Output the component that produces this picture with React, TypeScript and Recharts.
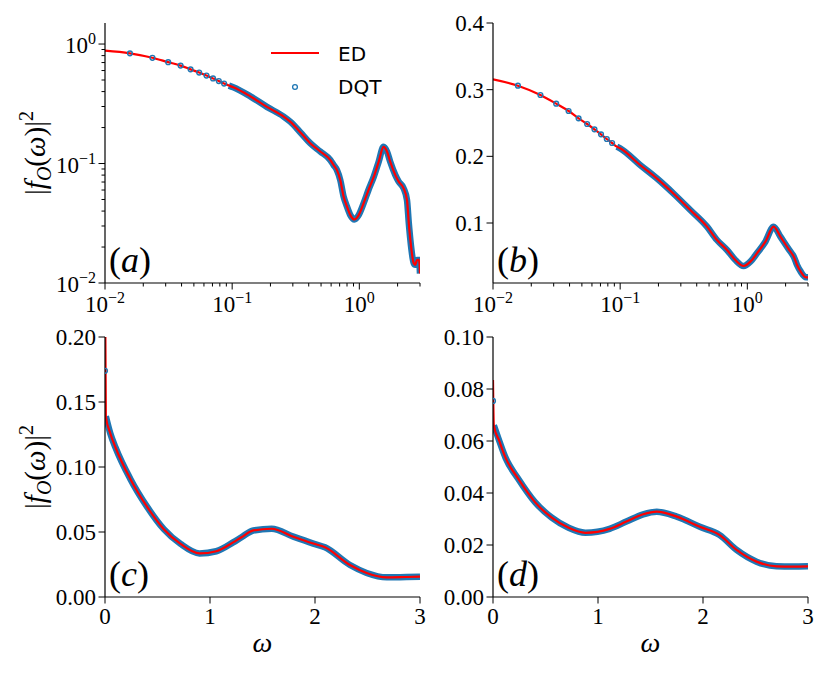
import React from 'react';
import { ComposedChart, Line, XAxis, YAxis, Legend } from 'recharts';

const BLUE = '#1f77b4';
const RED = '#ff0000';
const SERIF = '"Liberation Serif", "Times New Roman", serif';
const SANS = '"DejaVu Sans", Verdana, sans-serif';
const TICK_FS = 23;
const SUP_FS = 16;
const MAJOR_LEN = 6.5;
const MINOR_LEN = 3.5;

// ---------- panel (a): log-log ----------
const edOmegaA = [0.01, 0.0157, 0.0236, 0.0314, 0.0393, 0.0471, 0.055, 0.0628, 0.0707, 0.0785, 0.0864, 0.0942, 0.102, 0.139, 0.1875, 0.254, 0.286, 0.343, 0.411, 0.493, 0.591, 0.628, 0.667, 0.708, 0.752, 0.8, 0.85, 0.914, 0.988, 1.08, 1.18, 1.3, 1.42, 1.55, 1.65, 1.75, 1.92, 2.04, 2.23, 2.37, 2.45, 2.52, 2.68, 2.75, 2.85, 2.95, 3.0];
const edValA = [0.88, 0.836, 0.767, 0.705, 0.66, 0.614, 0.577, 0.545, 0.515, 0.49, 0.467, 0.449, 0.435, 0.365, 0.298, 0.247, 0.224, 0.183, 0.148, 0.126, 0.107, 0.097, 0.088, 0.0728, 0.053, 0.0435, 0.037, 0.034, 0.037, 0.0464, 0.06, 0.0776, 0.1035, 0.138, 0.126, 0.1035, 0.08, 0.0705, 0.062, 0.0495, 0.0316, 0.0229, 0.0146, 0.0142, 0.0156, 0.0156, 0.012];

// ---------- panel (b): log-x ----------
const edOmegaB = [0.01, 0.0157, 0.0236, 0.0314, 0.0393, 0.0471, 0.055, 0.0628, 0.0707, 0.0785, 0.0864, 0.0942, 0.1, 0.1435, 0.194, 0.27, 0.356, 0.482, 0.577, 0.692, 0.805, 0.935, 1.057, 1.19, 1.387, 1.61, 1.82, 2.12, 2.25, 2.32, 2.46, 2.63, 2.89, 3.0];
const edValB = [0.3155, 0.306, 0.292, 0.279, 0.268, 0.257, 0.2485, 0.2405, 0.233, 0.226, 0.22, 0.2145, 0.212, 0.187, 0.167, 0.142, 0.1195, 0.0945, 0.0745, 0.0595, 0.0445, 0.0355, 0.042, 0.0545, 0.072, 0.0945, 0.0795, 0.0605, 0.0535, 0.0495, 0.037, 0.027, 0.0185, 0.0185];

// ---------- panel (c): linear ----------
const edOmegaC = [0, 0.0079, 0.05, 0.1, 0.24, 0.4, 0.56, 0.72, 0.9, 1.06, 1.22, 1.3, 1.413, 1.587, 1.794, 1.984, 2.095, 2.333, 2.492, 2.683, 2.873, 3.0];
const edValC = [0.25, 0.139, 0.126, 0.115, 0.091, 0.0695, 0.0522, 0.0408, 0.0335, 0.0352, 0.042, 0.046, 0.0512, 0.0525, 0.0464, 0.0411, 0.0382, 0.0246, 0.0185, 0.0151, 0.0154, 0.0156];

// ---------- panel (d): linear ----------
const edOmegaD = [0, 0.0079, 0.06, 0.12, 0.24, 0.4, 0.56, 0.72, 0.88, 1.11, 1.27, 1.43, 1.56, 1.75, 1.97, 2.16, 2.32, 2.51, 2.7, 2.85, 3.0];
const edValD = [0.0835, 0.066, 0.06, 0.0535, 0.0455, 0.0365, 0.0305, 0.0266, 0.0247, 0.0262, 0.029, 0.0318, 0.0328, 0.0309, 0.027, 0.0238, 0.0181, 0.0136, 0.0118, 0.0117, 0.0118];

// ---------- DQT isolated markers ----------
const dqtDotOmegaTop = [0.0157, 0.0236, 0.0314, 0.0393, 0.0471, 0.055, 0.0628, 0.0707, 0.0785, 0.0864];
const dqtDotValA = [0.836, 0.767, 0.705, 0.66, 0.614, 0.577, 0.545, 0.515, 0.49, 0.467];
const dqtDotValB = [0.306, 0.292, 0.279, 0.268, 0.257, 0.2485, 0.2405, 0.233, 0.226, 0.22];
const dqtDotOmegaBottom = [0];
const dqtDotValC = [0.174];
const dqtDotValD = [0.0754];

// ---------- ticks ----------
const ticksLogX = [0.01, 0.02, 0.03, 0.04, 0.05, 0.06, 0.07, 0.08, 0.09, 0.1, 0.2, 0.3, 0.4, 0.5, 0.6, 0.7, 0.8, 0.9, 1, 2, 3];
const ticksLogYA = [0.01, 0.02, 0.03, 0.04, 0.05, 0.06, 0.07, 0.08, 0.09, 0.1, 0.2, 0.3, 0.4, 0.5, 0.6, 0.7, 0.8, 0.9, 1];
const majorLog = [0.01, 0.1, 1];
const ticksYB = [0.1, 0.2, 0.3, 0.4];
const ticksLinX = [0, 1, 2, 3];
const ticksYC = [0, 0.05, 0.1, 0.15, 0.2];
const ticksYD = [0, 0.02, 0.04, 0.06, 0.08, 0.1];

type Row = { w: number; v: number };
const rows = (ws: number[], vs: number[]): Row[] => ws.map((w, i) => ({ w, v: vs[i] }));

const edA = rows(edOmegaA, edValA);
const edB = rows(edOmegaB, edValB);
const edC = rows(edOmegaC, edValC);
const edD = rows(edOmegaD, edValD);
const bandA = edA.filter((r) => r.w >= 0.094);
const bandB = edB.filter((r) => r.w >= 0.094);
const bandC = edC.filter((r) => r.w > 0);
const bandD = edD.filter((r) => r.w > 0);
const dotsA = rows(dqtDotOmegaTop, dqtDotValA);
const dotsB = rows(dqtDotOmegaTop, dqtDotValB);
const dotsC = rows(dqtDotOmegaBottom, dqtDotValC);
const dotsD = rows(dqtDotOmegaBottom, dqtDotValD);

const isMajor = (v: number) => majorLog.some((m) => Math.abs(v - m) < 1e-9);
const expLabel = (v: number) => {
  const e = Math.round(Math.log10(v));
  return e < 0 ? '\u2212' + Math.abs(e) : String(e);
};

const serif = (size: number, italic = false): React.CSSProperties => ({
  fontFamily: SERIF,
  fontSize: size,
  fontStyle: italic ? 'italic' : 'normal',
  fill: '#000',
});

const LogXTick = (props: any) => {
  const { x, y, payload } = props;
  const v = payload.value;
  const major = isMajor(v);
  return (
    <g>
      <line x1={x} x2={x} y1={y} y2={y + (major ? MAJOR_LEN : MINOR_LEN)} stroke="#000" strokeWidth={1} />
      {major && (
        <text x={x} y={y + 29} textAnchor="middle" style={serif(TICK_FS)}>
          10<tspan dy={-9} style={{ fontSize: SUP_FS }}>{expLabel(v)}</tspan>
        </text>
      )}
    </g>
  );
};

const LogYTick = (props: any) => {
  const { x, y, payload } = props;
  const v = payload.value;
  const major = isMajor(v);
  return (
    <g>
      <line x1={x - (major ? MAJOR_LEN : MINOR_LEN)} x2={x} y1={y} y2={y} stroke="#000" strokeWidth={1} />
      {major && (
        <text x={x - 9} y={y + 9} textAnchor="end" style={serif(TICK_FS)}>
          10<tspan dy={-9} style={{ fontSize: SUP_FS }}>{expLabel(v)}</tspan>
        </text>
      )}
    </g>
  );
};

const LinXTick = (props: any) => {
  const { x, y, payload } = props;
  return (
    <g>
      <line x1={x} x2={x} y1={y} y2={y + MAJOR_LEN} stroke="#000" strokeWidth={1} />
      <text x={x} y={y + 27} textAnchor="middle" style={serif(TICK_FS)}>
        {String(payload.value)}
      </text>
    </g>
  );
};

const LinYTick = (props: any) => {
  const { x, y, payload, digits } = props;
  return (
    <g>
      <line x1={x - MAJOR_LEN} x2={x} y1={y} y2={y} stroke="#000" strokeWidth={1} />
      <text x={x - 9} y={y + 8} textAnchor="end" style={serif(TICK_FS)}>
        {Number(payload.value).toFixed(digits)}
      </text>
    </g>
  );
};

const YTitle = (props: any) => {
  const { viewBox } = props;
  const cx = 45;
  const cy = viewBox.y + viewBox.height / 2;
  return (
    <text transform={`rotate(-90, ${cx}, ${cy})`} x={cx} y={cy} textAnchor="middle" style={serif(29)}>
      |<tspan style={{ fontStyle: 'italic' }}>f</tspan>
      <tspan dy={6} style={{ fontStyle: 'italic', fontSize: 20 }}>O</tspan>
      <tspan dy={-6}>(</tspan>
      <tspan style={{ fontStyle: 'italic' }}>ω</tspan>)|<tspan dy={-12} style={{ fontSize: 20 }}>2</tspan>
    </text>
  );
};

const XTitle = (props: any) => {
  const { viewBox, tag, showOmega } = props;
  return (
    <g>
      <text x={viewBox.x + 4} y={viewBox.y - 11} style={serif(36)}>
        (<tspan style={{ fontStyle: 'italic' }}>{tag}</tspan>)
      </text>
      {showOmega && (
        <text x={viewBox.x + viewBox.width / 2} y={viewBox.y + 55} textAnchor="middle" style={serif(28, true)}>
          ω
        </text>
      )}
    </g>
  );
};

const legendText: React.CSSProperties = { fontFamily: SANS, fontSize: 20, fill: '#000' };

const LegendBox = () => (
  <svg width={160} height={75} style={{ display: 'block' }}>
    <line x1={11} x2={59} y1={18} y2={18} stroke={RED} strokeWidth={2.2} />
    <text x={78} y={26} style={legendText}>ED</text>
    <circle cx={35} cy={52} r={2.4} fill="none" stroke={BLUE} strokeWidth={1.3} />
    <text x={78} y={59} style={legendText}>DQT</text>
  </svg>
);

const axisLine = { stroke: '#000', strokeWidth: 1.2 };

const frameAxes = [
  <XAxis key="xt" xAxisId="top" orientation="top" height={0} type="number" domain={[0, 1]} tick={false} tickLine={false} axisLine={axisLine} />,
  <YAxis key="yr" yAxisId="right" orientation="right" width={0} type="number" domain={[0, 1]} tick={false} tickLine={false} axisLine={axisLine} />,
];

const series = (band: Row[], dots: Row[], ed: Row[]) => [
  <Line key="band" data={band} dataKey="v" name="DQT" type="monotone" stroke={BLUE} strokeWidth={6.5} dot={false} isAnimationActive={false} />,
  <Line key="dots" data={dots} dataKey="v" name="DQT markers" stroke="none" dot={{ r: 2.4, fill: 'none', stroke: BLUE, strokeWidth: 1.4 }} isAnimationActive={false} legendType="none" />,
  <Line key="ed" data={ed} dataKey="v" name="ED" type="monotone" stroke={RED} strokeWidth={2.2} dot={false} isAnimationActive={false} />,
];

export default function App() {
  return (
    <div style={{ position: 'absolute', left: 0, top: 0, width: 830, height: 675, background: '#fff' }}>
      {/* (a) */}
      <div style={{ position: 'absolute', left: 0, top: 0 }}>
        <ComposedChart width={430} height={320} margin={{ top: 23, right: 10, bottom: 7, left: 45 }}>
          <XAxis dataKey="w" type="number" scale="log" domain={[0.01, 3]} allowDataOverflow ticks={ticksLogX} interval={0} tickSize={0} tickMargin={0} tickLine={false} tick={<LogXTick />} height={30} axisLine={axisLine} label={<XTitle tag="a" />} />
          <YAxis type="number" scale="log" domain={[0.01, 1.5]} allowDataOverflow ticks={ticksLogYA} interval={0} tickSize={0} tickMargin={0} tickLine={false} tick={<LogYTick />} width={60} axisLine={axisLine} label={<YTitle />} />
          {frameAxes}
          {series(bandA, dotsA, edA)}
          <Legend layout="horizontal" verticalAlign="middle" align="center" wrapperStyle={{ left: 260, top: 35, width: 160, height: 75 }} content={() => <LegendBox />} />
        </ComposedChart>
      </div>
      {/* (b) */}
      <div style={{ position: 'absolute', left: 430, top: 0 }}>
        <ComposedChart width={400} height={320} margin={{ top: 23, right: 22, bottom: 7, left: 3 }}>
          <XAxis dataKey="w" type="number" scale="log" domain={[0.01, 3]} allowDataOverflow ticks={ticksLogX} interval={0} tickSize={0} tickMargin={0} tickLine={false} tick={<LogXTick />} height={30} axisLine={axisLine} label={<XTitle tag="b" />} />
          <YAxis type="number" domain={[0.01, 0.4]} allowDataOverflow ticks={ticksYB} interval={0} tickSize={0} tickMargin={0} tickLine={false} tick={<LinYTick digits={1} />} width={60} axisLine={axisLine} />
          {frameAxes}
          {series(bandB, dotsB, edB)}
        </ComposedChart>
      </div>
      {/* (c) */}
      <div style={{ position: 'absolute', left: 0, top: 320 }}>
        <ComposedChart width={430} height={355} margin={{ top: 17, right: 10, bottom: 48, left: 45 }}>
          <XAxis dataKey="w" type="number" domain={[0, 3]} allowDataOverflow ticks={ticksLinX} interval={0} tickSize={0} tickMargin={0} tickLine={false} tick={<LinXTick />} height={30} axisLine={axisLine} label={<XTitle tag="c" showOmega />} />
          <YAxis type="number" domain={[0, 0.2]} allowDataOverflow ticks={ticksYC} interval={0} tickSize={0} tickMargin={0} tickLine={false} tick={<LinYTick digits={2} />} width={60} axisLine={axisLine} label={<YTitle />} />
          {frameAxes}
          {series(bandC, dotsC, edC)}
        </ComposedChart>
      </div>
      {/* (d) */}
      <div style={{ position: 'absolute', left: 430, top: 320 }}>
        <ComposedChart width={400} height={355} margin={{ top: 17, right: 22, bottom: 48, left: 3 }}>
          <XAxis dataKey="w" type="number" domain={[0, 3]} allowDataOverflow ticks={ticksLinX} interval={0} tickSize={0} tickMargin={0} tickLine={false} tick={<LinXTick />} height={30} axisLine={axisLine} label={<XTitle tag="d" showOmega />} />
          <YAxis type="number" domain={[0, 0.1]} allowDataOverflow ticks={ticksYD} interval={0} tickSize={0} tickMargin={0} tickLine={false} tick={<LinYTick digits={2} />} width={60} axisLine={axisLine} />
          {frameAxes}
          {series(bandD, dotsD, edD)}
        </ComposedChart>
      </div>
    </div>
  );
}
